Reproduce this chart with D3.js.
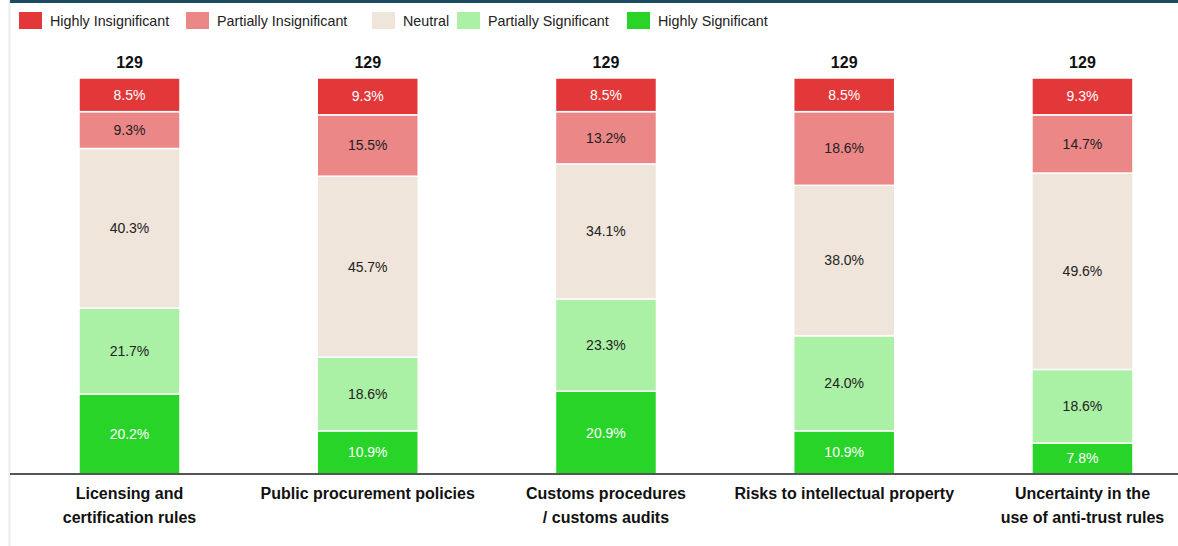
<!DOCTYPE html>
<html><head><meta charset="utf-8">
<script src="https://cdn.jsdelivr.net/npm/d3@7"></script>
<style>
html,body{margin:0;padding:0;background:#fff;}
svg{display:block;font-family:"Liberation Sans",Arial,sans-serif;}
</style></head>
<body><svg id="chart" width="1178" height="546"></svg>
<script>
const categories = [
  ["Licensing and", "certification rules"],
  ["Public procurement policies"],
  ["Customs procedures", "/ customs audits"],
  ["Risks to intellectual property"],
  ["Uncertainty in the", "use of anti-trust rules"]
];
const seriesNames = ["Highly Significant", "Partially Significant", "Neutral", "Partially Insignificant", "Highly Insignificant"];
const highlySignificant = [20.2, 10.9, 20.9, 10.9, 7.8];
const partiallySignificant = [21.7, 18.6, 23.3, 24.0, 18.6];
const neutral = [40.3, 45.7, 34.1, 38.0, 49.6];
const partiallyInsignificant = [9.3, 15.5, 13.2, 18.6, 14.7];
const highlyInsignificant = [8.5, 9.3, 8.5, 8.5, 9.3];
const totals = [129, 129, 129, 129, 129];
const legendOrder = ["Highly Insignificant", "Partially Insignificant", "Neutral", "Partially Significant", "Highly Significant"];

const colors = {
  "Highly Insignificant": "#e2383a",
  "Partially Insignificant": "#ec8787",
  "Neutral": "#efe5da",
  "Partially Significant": "#aaf0a5",
  "Highly Significant": "#29d429"
};
const textColors = {
  "Highly Insignificant": "#ffffff",
  "Partially Insignificant": "#222",
  "Neutral": "#222",
  "Partially Significant": "#222",
  "Highly Significant": "#ffffff"
};

const seriesValues = [highlySignificant, partiallySignificant, neutral, partiallyInsignificant, highlyInsignificant];
const rows = categories.map((c, i) => {
  const r = {idx: i};
  seriesNames.forEach((s, j) => r[s] = seriesValues[j][i]);
  return r;
});

const svg = d3.select("#chart");
const W = 1178, H = 546;

// frame
svg.append("line").attr("x1", 9.5).attr("x2", 9.5).attr("y1", 0).attr("y2", H)
  .attr("stroke", "#ececec").attr("stroke-width", 2);
svg.append("rect").attr("x", 10).attr("y", 0).attr("width", W - 10).attr("height", 3).attr("fill", "#1d4b60");

const x = d3.scaleBand().domain(d3.range(categories.length)).range([10, 1178])
  .paddingInner(0.576).paddingOuter(0.2393).align(0.605);
const y = d3.scaleLinear().domain([0, 100]).range([474, 78]);

const stack = d3.stack().keys(seriesNames)(rows);

const g = svg.append("g");
stack.forEach(layer => {
  const key = layer.key;
  const lg = g.append("g");
  lg.selectAll("rect").data(layer).join("rect")
    .attr("x", (d, i) => x(i))
    .attr("width", x.bandwidth())
    .attr("y", d => y(d[1]))
    .attr("height", d => y(d[0]) - y(d[1]))
    .attr("fill", colors[key])
    .attr("stroke", "#fff").attr("stroke-width", 1.5);
  lg.selectAll("text").data(layer).join("text")
    .attr("x", (d, i) => x(i) + x.bandwidth() / 2)
    .attr("y", d => (y(d[0]) + y(d[1])) / 2)
    .attr("dy", "0.35em")
    .attr("text-anchor", "middle")
    .attr("font-size", 14)
    .attr("fill", textColors[key])
    .text(d => (d[1] - d[0]).toFixed(1) + "%");
});

// totals
g.selectAll("text.total").data(totals).join("text").attr("class", "total")
  .attr("x", (d, i) => x(i) + x.bandwidth() / 2)
  .attr("y", 68)
  .attr("text-anchor", "middle")
  .attr("font-size", 16).attr("font-weight", "bold").attr("fill", "#111")
  .text(d => d);

// axis
const axis = d3.axisBottom(x).tickSize(0).tickFormat(() => "");
const ag = svg.append("g").attr("transform", "translate(0,474)").call(axis);
ag.select(".domain").attr("stroke", "#555").attr("stroke-width", 2).attr("d", "M10,0H1178");
ag.selectAll(".tick").each(function(d) {
  const t = d3.select(this).select("text");
  t.text(null).attr("y", 0).attr("dy", null)
    .attr("font-size", 16).attr("font-weight", "bold").attr("fill", "#111")
    .attr("font-family", "Liberation Sans, Arial, sans-serif");
  categories[d].forEach((line, k) => {
    t.append("tspan").attr("x", 0).attr("y", 25 + k * 24).text(line);
  });
});

// legend
const legendX = [19, 186, 372, 457, 627];
const lgd = svg.append("g");
legendOrder.forEach((name, i) => {
  lgd.append("rect").attr("x", legendX[i]).attr("y", 12).attr("width", 23).attr("height", 17)
    .attr("fill", colors[name]);
  lgd.append("text").attr("x", legendX[i] + 31).attr("y", 21).attr("dy", "0.35em")
    .attr("font-size", 14.3).attr("fill", "#222")
    .text(name);
});
</script>
</body></html>
